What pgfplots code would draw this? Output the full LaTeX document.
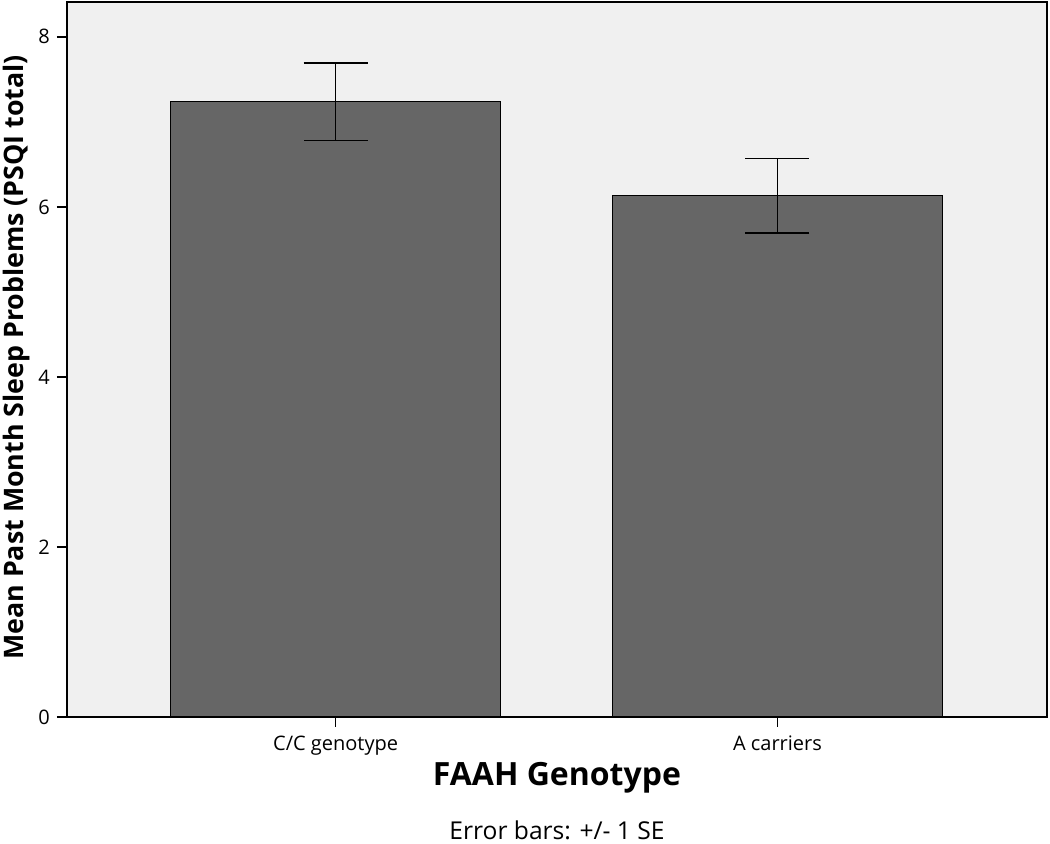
\documentclass[border=0pt]{standalone}
\usepackage{pgfplots}
\pgfplotsset{compat=1.18}
\usepackage{fontspec}
\setmainfont{Open Sans}
\definecolor{bg}{HTML}{F0F0F0}
\definecolor{barc}{HTML}{666666}
\pgfplotstableread{
x y err
0 7.235 0.455
1 6.13 0.44
}\datatable
\begin{document}
\begin{tikzpicture}
\useasboundingbox (-33.5pt,-63.5pt) rectangle (491.5pt,358.5pt);
\begin{axis}[
  at={(0,0)}, anchor=south west,
  scale only axis,
  width=490pt, height=357.5pt,
  xmin=-0.608, xmax=1.61,
  ymin=0, ymax=8.41,
  axis background/.style={fill=bg},
  axis line style={line width=0.8pt},
  xtick={0,1}, xticklabels={C/C genotype, A carriers},
  ytick={0,2,4,6,8},
  xtick pos=bottom, ytick pos=left,
  tick align=outside, major tick length=5pt,
  tick style={black, line width=0.8pt},
  /pgf/number format/assume math mode=true,
  ticklabel style={font=\fontsize{10}{11}\selectfont},
  xticklabel style={yshift=-1pt},
  ylabel={\textbf{Mean Past Month Sleep Problems (PSQI total)}},
  ylabel style={font=\fontsize{13.4}{15}\selectfont, at={(axis description cs:-0.051,0.503)}, anchor=center, rotate=0},
  clip=false,
]
\addplot[ybar, bar width=0.748, fill=barc, draw=black, line width=0.6pt,
  error bars/.cd, y dir=both, y explicit,
  error bar style={black, line width=0.8pt},
  error mark options={rotate=90, mark size=16pt, black, line width=0.8pt}]
  table[x=x, y=y, y error=err] {\datatable};
\node[font=\bfseries\fontsize{16}{18}\selectfont] at (axis description cs:0.5,0) [yshift=-30.5pt] {FAAH Genotype};
\node[font=\fontsize{12.3}{14}\selectfont] at (axis description cs:0.5,0) [yshift=-56.5pt] {Error bars: +/- 1 SE};
\end{axis}
\end{tikzpicture}
\end{document}
